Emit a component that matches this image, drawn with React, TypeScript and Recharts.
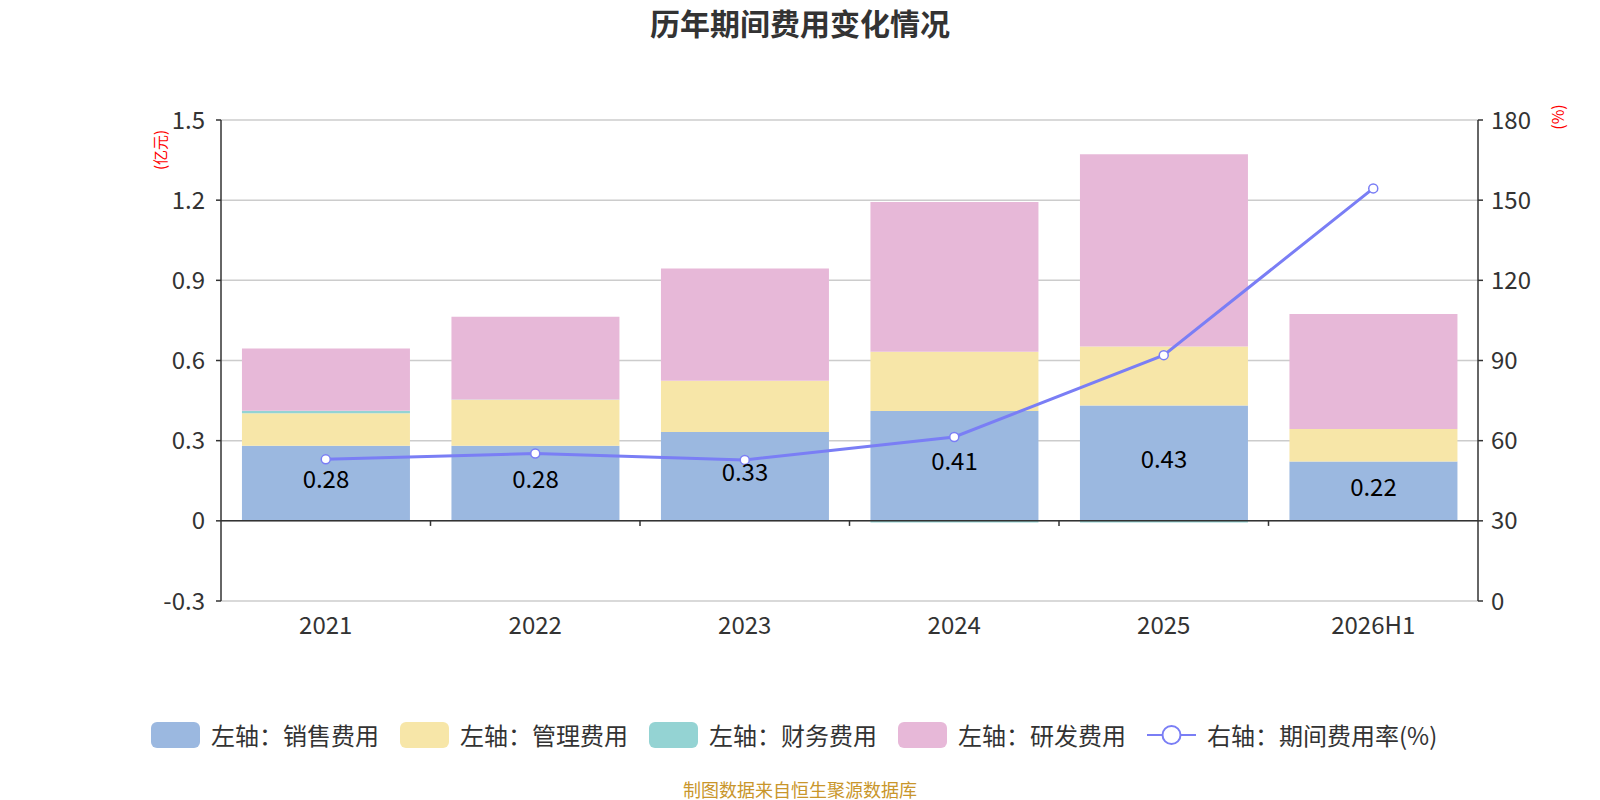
import React from 'react';
import {
  ComposedChart, Bar, Line, XAxis, YAxis, CartesianGrid, ReferenceLine, LabelList,
} from 'recharts';

const years = ['2021', '2022', '2023', '2024', '2025', '2026H1'];
const sales = [0.281, 0.281, 0.332, 0.411, 0.432, 0.222];
const mgmt = [0.122, 0.172, 0.192, 0.222, 0.22, 0.122];
const finance = [0.009, 0.001, 0, -0.006, -0.006, 0];
const rd = [0.233, 0.31, 0.42, 0.56, 0.72, 0.43];
const rate = [53.0, 55.2, 52.8, 61.4, 92.0, 154.4];

const leftTicks = [-0.3, 0, 0.3, 0.6, 0.9, 1.2, 1.5];
const rightTicks = [0, 30, 60, 90, 120, 150, 180];

const seriesNames = ['左轴：销售费用', '左轴：管理费用', '左轴：财务费用', '左轴：研发费用', '右轴：期间费用率(%)'];
const colors = ['#9bb8e0', '#f7e6a8', '#94d3d3', '#e7b8d8', '#7a7ef5'];

const data = years.map((y, i) => ({
  year: y,
  pos: i + 0.5,
  sales: sales[i],
  mgmt: mgmt[i],
  finance: finance[i],
  rd: rd[i],
  rate: rate[i],
}));

const boundaries = years.slice(1).map((_, i) => i + 1);

const FONT = "'Noto Sans CJK SC', 'Noto Sans', sans-serif";
const tickStyle = { fontSize: 24, fill: '#333', fontFamily: FONT };

export default function App() {
  return (
    <div style={{ position: 'absolute', left: 0, top: 0, width: 1600, height: 800, background: '#fff', fontFamily: FONT }}>
      <div style={{ position: 'absolute', left: 0, top: 7, width: 1600, textAlign: 'center', fontSize: 30, lineHeight: '30px', fontWeight: 'bold', color: '#333' }}>
        历年期间费用变化情况
      </div>
      <div style={{ position: 'absolute', left: 160, top: 150, transform: 'translate(-50%, -50%) rotate(-90deg)', fontSize: 15, color: '#ff0000', whiteSpace: 'nowrap', lineHeight: '16px' }}>
        (亿元)
      </div>
      <div style={{ position: 'absolute', left: 1557, top: 117, transform: 'translate(-50%, -50%) rotate(-90deg)', fontSize: 16, color: '#ff0000', whiteSpace: 'nowrap', lineHeight: '16px' }}>
        (%)
      </div>
      <ComposedChart
        width={1600}
        height={800}
        data={data}
        stackOffset="sign"
        barCategoryGap="10%"
        margin={{ top: 120, right: 62, bottom: 169, left: 161 }}
        style={{ position: 'absolute', left: 0, top: 0 }}
      >
        <CartesianGrid yAxisId="left" xAxisId="cat" vertical={false} stroke="#cccccc" strokeWidth={1.5} />
        <XAxis
          xAxisId="cat"
          dataKey="year"
          axisLine={false}
          tickLine={false}
          tickSize={0}
          tickMargin={16}
          height={30}
          tick={tickStyle}
          interval={0}
        />
        <XAxis xAxisId="num" dataKey="pos" type="number" domain={[0, years.length]} allowDataOverflow hide />
        <YAxis
          yAxisId="left"
          width={60}
          domain={[-0.3, 1.5]}
          ticks={leftTicks}
          interval={0}
          allowDataOverflow
          axisLine={{ stroke: '#333', strokeWidth: 1.5 }}
          tickLine={{ stroke: '#333', strokeWidth: 1.5 }}
          tickSize={5}
          tickMargin={11}
          tick={tickStyle}
          tickFormatter={(v: number) => (v === 0 ? '0' : String(v))}
        />
        <YAxis
          yAxisId="right"
          orientation="right"
          width={60}
          domain={[0, 180]}
          ticks={rightTicks}
          interval={0}
          allowDataOverflow
          axisLine={{ stroke: '#333', strokeWidth: 1.5 }}
          tickLine={{ stroke: '#333', strokeWidth: 1.5 }}
          tickSize={5}
          tickMargin={8}
          tick={tickStyle}
        />
        <Bar xAxisId="cat" yAxisId="left" dataKey="sales" name={seriesNames[0]} stackId="a" fill={colors[0]} isAnimationActive={false}>
          <LabelList
            dataKey="sales"
            position="center"
            fill="#000"
            fontSize={24}
            fontFamily={FONT}
            dy={-4}
            formatter={(v: number) => Number(v).toFixed(2)}
          />
        </Bar>
        <Bar xAxisId="cat" yAxisId="left" dataKey="mgmt" name={seriesNames[1]} stackId="a" fill={colors[1]} isAnimationActive={false} />
        <Bar xAxisId="cat" yAxisId="left" dataKey="finance" name={seriesNames[2]} stackId="a" fill={colors[2]} isAnimationActive={false} />
        <Bar xAxisId="cat" yAxisId="left" dataKey="rd" name={seriesNames[3]} stackId="a" fill={colors[3]} isAnimationActive={false} />
        <ReferenceLine xAxisId="cat" yAxisId="left" y={0} stroke="#333" strokeWidth={1.5} />
        {boundaries.map((b) => (
          <ReferenceLine
            key={b}
            xAxisId="num"
            yAxisId="left"
            segment={[{ x: b, y: 0 }, { x: b, y: -0.019 }]}
            stroke="#333"
            strokeWidth={1.5}
          />
        ))}
        <Line
          xAxisId="cat"
          yAxisId="right"
          dataKey="rate"
          name={seriesNames[4]}
          stroke={colors[4]}
          strokeWidth={3}
          dot={{ r: 4.5, fill: '#fff', stroke: colors[4], strokeWidth: 1.5 }}
          isAnimationActive={false}
        />
      </ComposedChart>
      <div style={{ position: 'absolute', left: 151, top: 722, height: 26, display: 'flex', alignItems: 'center', whiteSpace: 'nowrap' }}>
        {seriesNames.map((n, i) => (
          <div key={n} style={{ display: 'flex', alignItems: 'center', marginRight: 21 }}>
            {i < 4 ? (
              <div style={{ width: 49, height: 26, borderRadius: 6, background: colors[i] }} />
            ) : (
              <svg width={49} height={26}>
                <line x1={0} y1={13} x2={49} y2={13} stroke={colors[i]} strokeWidth={2} />
                <circle cx={24.5} cy={13} r={9} fill="#fff" stroke={colors[i]} strokeWidth={2} />
              </svg>
            )}
            <span style={{ marginLeft: 11, fontSize: 24, color: '#333', lineHeight: '26px' }}>{n}</span>
          </div>
        ))}
      </div>
      <div style={{ position: 'absolute', left: 0, top: 779, width: 1600, textAlign: 'center', fontSize: 18, lineHeight: '20px', color: '#c9962b' }}>
        制图数据来自恒生聚源数据库
      </div>
    </div>
  );
}
